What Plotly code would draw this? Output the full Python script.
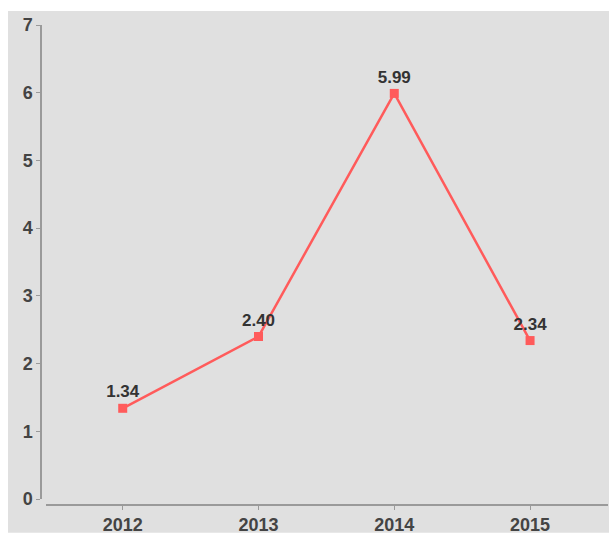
import plotly.graph_objects as go

# Yearly values
years = ["2012", "2013", "2014", "2015"]
values = [1.34, 2.40, 5.99, 2.34]
value_labels = ["1.34", "2.40", "5.99", "2.34"]
y_ticks = [0, 1, 2, 3, 4, 5, 6, 7]

W, H = 609, 536
# plot-area pixel box (left, right, top, bottom)
L, R, T, B = 41, 608, 25, 508
pw, ph = R - L, B - T

FONT = "Liberation Sans, Arial, Helvetica, sans-serif"
LINE_RED = "#ff5b5b"
AXIS_GREY = "#9a9a9a"

fig = go.Figure()
fig.add_trace(go.Scatter(
    x=years,
    y=values,
    mode="lines+markers+text",
    line=dict(color=LINE_RED, width=2.5),
    marker=dict(symbol="square", size=9, color=LINE_RED),
    text=value_labels,
    textposition="top center",
    textfont=dict(family=FONT, size=17, color="#333333", weight="bold"),
    cliponaxis=False,
    hoverinfo="skip",
    showlegend=False,
))

# grey panel behind the chart
fig.add_shape(
    type="rect", xref="paper", yref="paper", layer="below",
    x0=(8 - L) / pw, x1=(W - L) / pw,
    y0=(B - H) / ph, y1=(B - 11) / ph,
    fillcolor="#e0e0e0", line=dict(width=0),
)

fig.update_layout(
    width=W, height=H,
    margin=dict(l=L, r=W - R, t=T, b=H - B, pad=0),
    paper_bgcolor="white",
    plot_bgcolor="rgba(0,0,0,0)",
    xaxis=dict(
        type="category",
        domain=[(46 - L) / pw, 1],
        anchor="free", position=0,
        range=[-0.565, 3.574],
        showline=True, linecolor=AXIS_GREY, linewidth=1.5,
        ticks="outside", ticklen=4, tickcolor=AXIS_GREY, tickwidth=1,
        showgrid=False, zeroline=False,
        tickfont=dict(family=FONT, size=18, color="#444444", weight="bold"),
    ),
    yaxis=dict(
        domain=[(B - 502) / ph, 1],
        anchor="free", position=0,
        range=[0, 7],
        tickvals=y_ticks,
        showline=True, linecolor=AXIS_GREY, linewidth=1.5,
        ticks="outside", ticklen=4, tickcolor=AXIS_GREY, tickwidth=1,
        showgrid=False, zeroline=False,
        tickfont=dict(family=FONT, size=18, color="#444444", weight="bold"),
    ),
)

fig.write_html("out.html")
